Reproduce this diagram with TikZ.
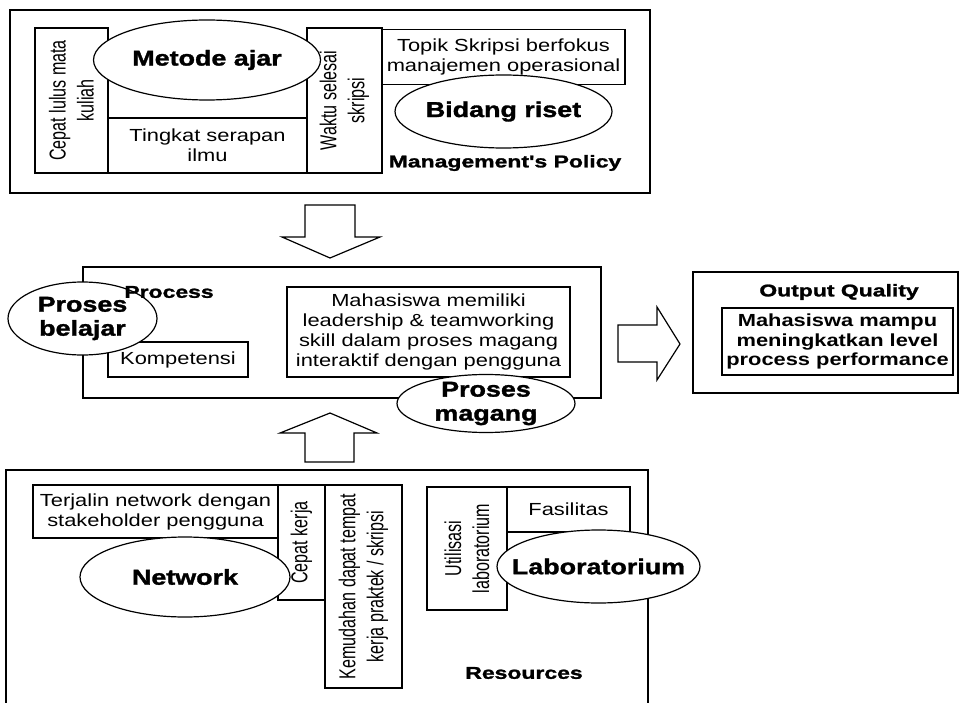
\documentclass[tikz,border=0pt]{standalone}
\usepackage{fontspec}
\setmainfont{Liberation Sans}
\newfontfamily\bodyfont[FakeStretch=1.25]{Liberation Sans}
\newfontfamily\heavyfont[FakeStretch=1.25,FakeBold=1.5]{Liberation Sans}
\newfontfamily\tagfont[FakeStretch=1.35,FakeBold=1.5]{Liberation Sans}
\newfontfamily\sidefont[FakeStretch=0.7]{Liberation Sans}
\usetikzlibrary{shapes.geometric}

\begin{document}
\begin{tikzpicture}[x=1pt,y=-1pt,
    frame/.style={draw,line width=1.4pt,inner sep=0pt},
    box/.style={draw,line width=1.2pt,inner sep=0pt,align=center,
        font=\bodyfont\fontsize{17.5}{20}\selectfont},
    sidebox/.style={draw,line width=1.2pt,inner sep=0pt,align=center,rotate=90,
        font=\sidefont\fontsize{23}{28}\selectfont},
    oval/.style={draw,ellipse,fill=white,line width=1.2pt,inner sep=0pt},
    ovaltext/.style={inner sep=0pt,align=center,
        font=\heavyfont\bfseries\fontsize{21.5}{24}\selectfont},
    tag/.style={font=\tagfont\bfseries\fontsize{17}{20}\selectfont},
    bigarrow/.style={draw,line width=1.2pt,line join=miter}]
    \useasboundingbox (0,0) rectangle (963,703);

    \node[frame,minimum width=640pt,minimum height=183pt] (policy) at (330,101.5) {};
    \node[sidebox,minimum width=145pt,minimum height=73pt] (lulus) at (71.5,100.5) {Cepat lulus mata\\kuliah};
    \node[box,minimum width=199pt,minimum height=55pt] (serapan) at (207.5,145.5) {Tingkat serapan\\ilmu};
    \node[sidebox,minimum width=145pt,minimum height=75pt] (waktu) at (344.5,100.5) {Waktu selesai\\skripsi};
    \node[box,minimum width=243pt,minimum height=55pt] (topik) at (503.5,57) {Topik Skripsi berfokus\\manajemen operasional};
    \node[oval,minimum width=227pt,minimum height=80pt] (metode) at (207,60) {};
    \node[ovaltext] (metodetxt) at (metode) {Metode ajar};
    \node[oval,minimum width=217pt,minimum height=73pt] (riset) at (503.5,111.5) {};
    \node[ovaltext] (risettxt) at (riset) {Bidang riset};
    \node[tag] (policylbl) at (505,163) {Management's Policy};

    \draw[bigarrow] (305,205) -- (355,205) -- (355,237) -- (380,237) -- (330,258)
        -- (282,237) -- (305,237) -- cycle;

    \node[frame,minimum width=518pt,minimum height=131pt] (process) at (342,332.5) {};
    \node[box,minimum width=140pt,minimum height=35pt] (kompetensi) at (178,359.5) {Kompetensi};
    \node[box,minimum width=283pt,minimum height=90pt] (leader) at (428.5,332) {Mahasiswa memiliki\\leadership \& teamworking\\skill dalam proses magang\\interaktif dengan pengguna};
    \node[oval,minimum width=149pt,minimum height=73pt] (belajar) at (82.5,318.5) {};
    \node[ovaltext] (belajartxt) at (belajar) {Proses\\belajar};
    \node[oval,minimum width=178pt,minimum height=58pt] (magang) at (486,403.5) {};
    \node[ovaltext] (magangtxt) at (magang) {Proses\\magang};
    \node[tag] (processlbl) at (169,292) {Process};

    \draw[bigarrow] (618,325) -- (657,325) -- (657,307) -- (680,344) -- (657,380)
        -- (657,362) -- (618,362) -- cycle;

    \node[frame,minimum width=265pt,minimum height=121pt] (quality) at (825.5,332.5) {};
    \node[tag] (qualitylbl) at (839,292) {Output Quality};
    \node[box,font=\bodyfont\bfseries\fontsize{17.5}{19.5}\selectfont,
        minimum width=231pt,minimum height=67pt] (mampu) at (837.5,341.5) {Mahasiswa mampu\\meningkatkan level\\process performance};

    \draw[bigarrow] (305,462) -- (305,433) -- (280,433) -- (330,413) -- (377,433)
        -- (354,433) -- (354,462) -- cycle;

    \draw[line width=1.4pt] (6,703) -- (6,470) -- (648,470) -- (648,703);
    \node[box,minimum width=245pt,minimum height=53pt] (terjalin) at (155.5,511.5) {Terjalin network dengan\\stakeholder pengguna};
    \node[sidebox,minimum width=115pt,minimum height=47pt] (kerja) at (301.5,542.5) {Cepat kerja};
    \node[sidebox,minimum width=203pt,minimum height=77pt] (kemudahan) at (363.5,586.5) {Kemudahan dapat tempat\\kerja praktek / skripsi};
    \node[sidebox,minimum width=123pt,minimum height=80pt] (utilisasi) at (467,548.5) {Utilisasi\\laboratorium};
    \node[box,minimum width=123pt,minimum height=45pt] (fasilitas) at (568.5,509.5) {Fasilitas};
    \node[oval,minimum width=210pt,minimum height=80pt] (network) at (185,577) {};
    \node[ovaltext] (networktxt) at (network) {Network};
    \node[oval,minimum width=203pt,minimum height=73pt] (lab) at (598.5,566.5) {};
    \node[ovaltext] (labtxt) at (lab) {Laboratorium};
    \node[tag] (resourceslbl) at (524,673) {Resources};
\end{tikzpicture}
\end{document}
